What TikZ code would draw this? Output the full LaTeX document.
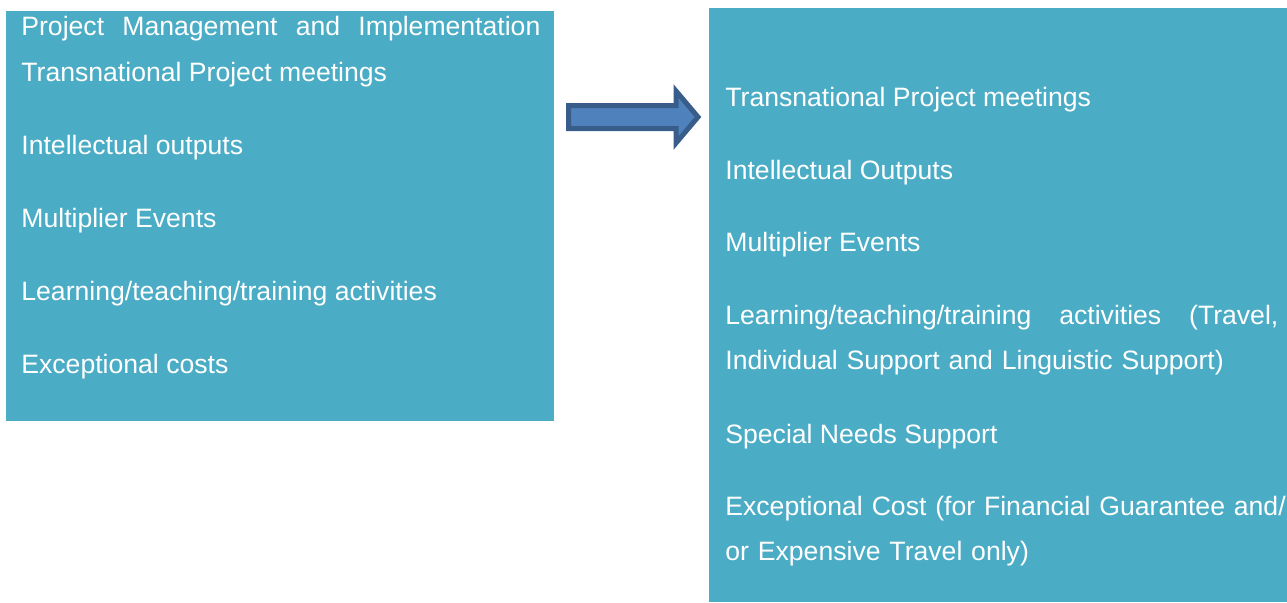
\documentclass[tikz,border=0pt]{standalone}
\usepackage{fontspec}
\setmainfont{Liberation Sans}
\usepackage{xcolor}
\usetikzlibrary{positioning}

\definecolor{boxblue}{HTML}{4BACC6}
\definecolor{arrowfill}{HTML}{4F81BD}
\definecolor{arrowline}{HTML}{385D8A}

\begin{document}
\begin{tikzpicture}[x=0.5pt, y=-0.5pt,
			panel/.style={fill=boxblue, draw=none, inner sep=0pt, anchor=north west},
			item/.style={anchor=base west, inner sep=0pt, text=white, font=\fontsize{13.3}{22.75}\selectfont},
			wideitem/.style={item, text width=#1, align=left},
			bigarrow/.style={fill=arrowfill, draw=arrowline, line width=2.5pt, line join=miter}
		]

		\useasboundingbox (0,0) rectangle (1287,602);

		% the two panels
		\node[panel, minimum width=274pt, minimum height=205pt] (oldbox) at (6,11) {};
		\node[panel, minimum width=289pt, minimum height=297pt] (newbox) at (709,8) {};

		% left panel
		\node[wideitem=259.5pt] (oldpm) at (21,35.7) {Project\hfill Management\hfill and\hfill Implementation};
		\node[item] (oldtpm) at (21,81) {Transnational Project meetings};
		\node[item] (oldio) at (21,154) {Intellectual outputs};
		\node[item] (oldme) at (21,227) {Multiplier Events};
		\node[item] (oldltt) at (21,300) {Learning/teaching/training activities};
		\node[item] (oldec) at (21,373) {Exceptional costs};

		% right panel
		\node[item] (newtpm) at (725,106) {Transnational Project meetings};
		\node[item] (newio) at (725,179) {Intellectual Outputs};
		\node[item] (newme) at (725,251) {Multiplier Events};
		\node[wideitem=276.5pt] (newltt) at (725,324) {Learning/teaching/training\hfill activities\hfill (Travel,\\Individual Support and Linguistic Support)};
		\node[item] (newsns) at (725,443) {Special Needs Support};
		\node[wideitem=300pt] (newec) at (725,515) {Exceptional Cost (for Financial Guarantee and/\\or Expensive Travel only)};

		% arrow between the panels
		\draw[bigarrow] (568.5,105.5) -- (676,105.5) -- (676,91) -- (698,117) -- (676,143) -- (676,128.5) -- (568.5,128.5) -- cycle;

	\end{tikzpicture}
\end{document}
